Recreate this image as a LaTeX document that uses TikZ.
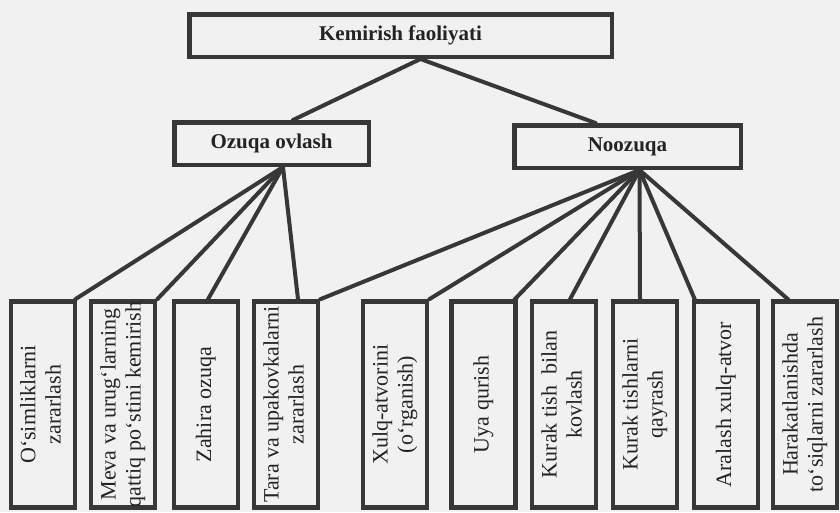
\documentclass[tikz,border=0pt]{standalone}
\usepackage{fontspec}
\setmainfont{Liberation Serif}
\usepackage{graphicx}
\definecolor{ink}{RGB}{55,55,55}
\definecolor{txt}{RGB}{35,35,35}
\definecolor{paper}{RGB}{241,241,241}
\tikzset{
  topbox/.style={draw=ink, line width=4.5pt, fill=none, minimum height=42.5pt,
    inner sep=0pt, text=txt, font=\fontsize{21}{24}\selectfont\bfseries},
  leafbox/.style={draw=ink, line width=4.5pt, minimum width=64pt, minimum height=206pt,
    inner sep=0pt, text=txt, font=\fontsize{22}{25}\selectfont},
  conn/.style={draw=ink, line width=4pt, line cap=round}
}
\newcommand{\vtext}[1]{\rotatebox{90}{\begin{tabular}{@{}c@{}}#1\end{tabular}}}
\begin{document}
\begin{tikzpicture}[x=1pt,y=-1pt]
\fill[paper] (0,0) rectangle (840,512);
\useasboundingbox (0,0) rectangle (840,512);

\node[topbox, minimum width=422.5pt] (top) at (400.5,35.5) {Kemirish faoliyati};
\node[topbox, minimum width=194.5pt] (oz) at (271.5,143.5) {Ozuqa ovlash};
\node[topbox, minimum width=226.5pt] (no) at (627.5,146.5) {Noozuqa};

\node[leafbox] (b1) at (43,404.5) {\vtext{O‘simliklarni\\zararlash}};
\node[leafbox] (b2) at (123,404.5) {\vtext{Meva va urug‘larning\\qattiq po‘stini kemirish}};
\node[leafbox] (b3) at (206,404.5) {\vtext{Zahira ozuqa}};
\node[leafbox] (b4) at (286,404.5) {\vtext{Tara va upakovkalarni\\zararlash}};
\node[leafbox] (b5) at (395,404.5) {\vtext{Xulq-atvorini\\(o‘rganish)}};
\node[leafbox] (b6) at (483.5,404.5) {\vtext{Uya qurish}};
\node[leafbox] (b7) at (564,404.5) {\vtext{Kurak tish\ \ bilan\\kovlash}};
\node[leafbox] (b8) at (645,404.5) {\vtext{Kurak tishlarni\\qayrash}};
\node[leafbox] (b9) at (726,404.5) {\vtext{Aralash xulq-atvor}};
\node[leafbox] (b10) at (805,404.5) {\vtext{Harakatlanishda\\to‘siqlarni zararlash}};

% top level connectors
\draw[conn] ([xshift=20pt]top.south) -- ([xshift=21.5pt]oz.north);
\draw[conn] ([xshift=20pt]top.south) -- ([xshift=-32pt]no.north);

% Ozuqa ovlash connectors
\draw[conn] ([xshift=11.5pt]oz.south) -- ([xshift=-2pt]b1.north east);
\draw[conn] ([xshift=11.5pt]oz.south) -- (b2.north east);
\draw[conn] ([xshift=11.5pt]oz.south) -- ([xshift=2pt]b3.north);
\draw[conn] ([xshift=11.5pt]oz.south) -- ([xshift=12pt]b4.north);

% Noozuqa connectors
\draw[conn] ([xshift=12pt]no.south) -- (b4.north east);
\draw[conn] ([xshift=12pt]no.south) -- (b5.north east);
\draw[conn] ([xshift=12pt]no.south) -- ([xshift=-3pt]b6.north east);
\draw[conn] ([xshift=12pt]no.south) -- ([xshift=6pt]b7.north);
\draw[conn] ([xshift=12pt]no.south) -- ([xshift=-5pt]b8.north);
\draw[conn] ([xshift=12pt]no.south) -- ([xshift=3pt]b9.north west);
\draw[conn] ([xshift=12pt]no.south) -- ([xshift=-17pt]b10.north);
\end{tikzpicture}
\end{document}
